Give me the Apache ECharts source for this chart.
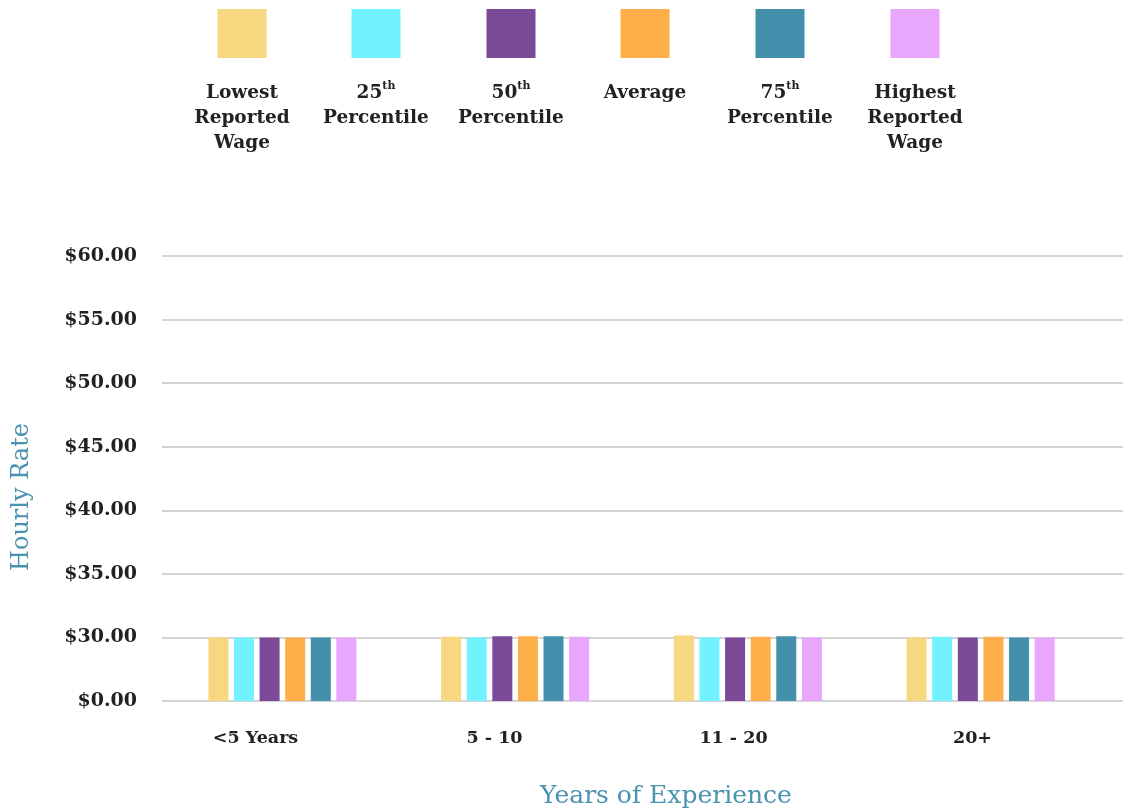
<!DOCTYPE html>
<html>
<head>
<meta charset="utf-8">
<script src="https://cdn.jsdelivr.net/npm/echarts@6/dist/echarts.min.js"></script>
<style>
  html, body { margin: 0; padding: 0; background: #fff; }
  #chart { width: 1123px; height: 810px; }
</style>
</head>
<body>
<div id="chart"></div>
<script>
// Years-of-experience groups
const categories = ['<5 Years', '5 - 10', '11 - 20', '20+'];

// Wage statistics per group (hourly, USD)
const lowestWage  = [30.00, 30.05, 30.15, 29.95];
const pct25       = [30.00, 30.00, 30.00, 30.05];
const pct50       = [29.95, 30.10, 30.00, 30.00];
const averageWage = [29.95, 30.10, 30.05, 30.05];
const pct75       = [29.95, 30.10, 30.10, 29.98];
const highestWage = [30.00, 30.05, 29.98, 29.98];

const seriesNames = ['Lowest Reported Wage', '25th Percentile', '50th Percentile', 'Average', '75th Percentile', 'Highest Reported Wage'];
const seriesValues = [lowestWage, pct25, pct50, averageWage, pct75, highestWage];
const seriesColors = ['#F7D881', '#72F2FE', '#7A4A98', '#FFAF4A', '#448FAB', '#E8A6FD'];

// Legend captions, line by line ({s|..} is superscript)
const legendLines = [
  ['Lowest', 'Reported', 'Wage'],
  ['25{s|th}', 'Percentile'],
  ['50{s|th}', 'Percentile'],
  ['Average'],
  ['75{s|th}', 'Percentile'],
  ['Highest', 'Reported', 'Wage']
];

// Broken value axis: first step spans $0 to $30, then $5 per step
const yTickLabels = ['$0.00', '$30.00', '$35.00', '$40.00', '$45.00', '$50.00', '$55.00', '$60.00'];
function toAxis(v) { return v <= 30 ? v / 30 : 1 + (v - 30) / 5; }

const serif = '"DejaVu Serif", "Liberation Serif", serif';
const accent = '#4A93B0';

const legendCenters = [242, 376, 511, 645, 780, 915];
const graphics = [];
seriesNames.forEach((name, i) => {
  graphics.push({
    type: 'rect',
    shape: { x: legendCenters[i] - 24.5, y: 9, width: 49, height: 49 },
    style: { fill: seriesColors[i] }
  });
  graphics.push({
    type: 'text',
    x: legendCenters[i],
    y: 81,
    style: {
      text: legendLines[i].join('\n'),
      fontFamily: serif,
      fontWeight: 'bold',
      fontSize: 18.5,
      lineHeight: 25,
      fill: '#222',
      align: 'center',
      verticalAlign: 'top',
      rich: {
        s: { fontSize: 11, fontWeight: 'bold', fontFamily: serif, verticalAlign: 'top', padding: [0, 0, 8, 0] }
      }
    }
  });
});
graphics.push({
  type: 'text', x: 22, y: 497, rotation: Math.PI / 2,
  style: { text: 'Hourly Rate', fontFamily: serif, fontSize: 24, fill: accent, align: 'center', verticalAlign: 'middle' }
});
graphics.push({
  type: 'text', x: 666, y: 796,
  style: { text: 'Years of Experience', fontFamily: serif, fontSize: 25, fill: accent, align: 'center', verticalAlign: 'middle' }
});

const chart = echarts.init(document.getElementById('chart'), null, { renderer: 'canvas' });
chart.setOption({
  animation: false,
  backgroundColor: '#fff',
  grid: [
    { left: 162, right: 0, top: 256, bottom: 109 },   // gridlines + value labels
    { left: 166, right: 26, top: 256, bottom: 109 },  // bars
    { left: 136, right: 31, top: 256, bottom: 109 }   // category labels
  ],
  xAxis: [
    { type: 'category', gridIndex: 0, data: categories, show: false },
    { type: 'category', gridIndex: 1, data: categories, show: false },
    {
      type: 'category', gridIndex: 2, data: categories,
      axisLine: { show: false }, axisTick: { show: false },
      axisLabel: { margin: 28, fontFamily: serif, fontWeight: 'bold', fontSize: 17.5, color: '#222' }
    }
  ],
  yAxis: [
    {
      type: 'value', gridIndex: 0, min: 0, max: 7, interval: 1,
      axisLine: { show: false }, axisTick: { show: false },
      splitLine: { lineStyle: { color: '#c6c6c6', width: 1.6 } },
      axisLabel: {
        margin: 25, fontFamily: serif, fontWeight: 'bold', fontSize: 19, color: '#222',
        formatter: v => yTickLabels[Math.round(v)] || ''
      }
    },
    { type: 'value', gridIndex: 1, min: 0, max: 7, interval: 1, show: false },
    { type: 'value', gridIndex: 2, min: 0, max: 7, interval: 1, show: false }
  ],
  series: seriesNames.map((name, i) => ({
    name,
    type: 'bar',
    xAxisIndex: 1,
    yAxisIndex: 1,
    barWidth: 20,
    barGap: '28%',
    itemStyle: { color: seriesColors[i] },
    data: seriesValues[i].map(toAxis)
  })),
  graphic: graphics
});
</script>
</body>
</html>
